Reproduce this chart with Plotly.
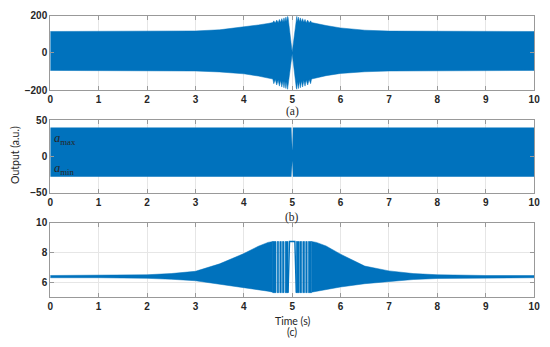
import plotly.graph_objects as go

# ---------------- data ----------------
# Panel (a): envelope of the oscillating output
a_t = [0, 1, 2, 3, 3.5, 4.0, 4.3, 4.5, 4.6, 4.62, 4.65, 4.68, 4.71, 4.735, 4.76, 4.785,
       4.81, 4.83, 4.85, 4.87, 4.888, 4.905, 4.915, 5.0,
       5.085, 5.095, 5.112, 5.13, 5.15, 5.17, 5.19, 5.215, 5.24, 5.265, 5.29, 5.32, 5.35,
       5.38, 5.4, 5.5, 5.7, 6.0, 6.5, 7.0, 8.0, 9.0, 10]
a_upper = [115, 115, 116, 118, 124, 138, 150, 158, 163, 172, 160, 176, 162, 180, 164, 184,
           166, 188, 167, 192, 168, 196, 190, 4,
           190, 196, 168, 192, 167, 188, 166, 184, 164, 180, 162, 176, 160,
           172, 163, 157, 147, 134, 122, 117, 115, 115, 115]
a_lower = [-94, -94, -95, -97, -102, -112, -124, -134, -140, -165, -142, -172, -145, -178, -148, -183,
           -150, -187, -152, -191, -154, -195, -188, -4,
           -188, -195, -154, -191, -152, -187, -150, -183, -148, -178, -145, -172, -142,
           -165, -140, -133, -122, -110, -101, -97, -95, -94, -94]

# Panel (b): saturated output between a_max and a_min
b_t = [0, 4.985, 5.0, 5.015, 10]
b_upper = [40, 40, 8, 40, 40]
b_lower = [-28, -28, -6, -28, -28]

# Panel (c): envelope of the demodulated signal
c_t = [0, 1, 2, 2.5, 3, 3.5, 4.0, 4.3, 4.5, 4.6,
       5.4, 5.5, 5.7, 6.0, 6.5, 7.0, 7.5, 8.0, 9.0, 10]
c_upper = [6.47, 6.47, 6.52, 6.6, 6.75, 7.25, 7.94, 8.43, 8.69, 8.75,
           8.75, 8.69, 8.45, 7.9, 7.1, 6.78, 6.6, 6.52, 6.47, 6.47]
c_lower = [6.32, 6.32, 6.28, 6.22, 6.12, 5.9, 5.68, 5.51, 5.42, 5.35,
           5.35, 5.42, 5.52, 5.7, 5.92, 6.08, 6.2, 6.27, 6.32, 6.32]
# saturated pulses near t = 5
c_block_start = [4.6, 4.69, 4.745, 4.8, 4.855, 5.085, 5.16, 5.22, 5.28, 5.335]
c_block_end = [4.665, 4.72, 4.775, 4.83, 4.915, 5.145, 5.195, 5.255, 5.31, 5.4]
c_block_top = 8.75
c_block_bottom = 5.32
c_pulse_t = [4.915, 4.945, 5.055, 5.085]
c_pulse_v = [5.32, 8.75, 8.75, 5.32]

x_ticks = list(range(0, 11))

BLUE = '#0072BD'


def band(t, up, lo):
    return list(t) + list(t)[::-1], list(up) + list(lo)[::-1]


fig = go.Figure()

xa, ya = band(a_t, a_upper, a_lower)
fig.add_trace(go.Scatter(x=xa, y=ya, fill='toself', fillcolor=BLUE, mode='lines',
                         line=dict(color=BLUE, width=0.5), xaxis='x', yaxis='y',
                         hoverinfo='skip'))

xb, yb = band(b_t, b_upper, b_lower)
fig.add_trace(go.Scatter(x=xb, y=yb, fill='toself', fillcolor=BLUE, mode='lines',
                         line=dict(color=BLUE, width=0), xaxis='x2', yaxis='y2',
                         hoverinfo='skip'))

# panel c: left and right envelopes
left = [i for i, t in enumerate(c_t) if t <= 4.6]
right = [i for i, t in enumerate(c_t) if t >= 5.4]
for idx in (left, right):
    xc, yc = band([c_t[i] for i in idx], [c_upper[i] for i in idx], [c_lower[i] for i in idx])
    fig.add_trace(go.Scatter(x=xc, y=yc, fill='toself', fillcolor=BLUE, mode='lines',
                             line=dict(color=BLUE, width=0.5), xaxis='x3', yaxis='y3',
                             hoverinfo='skip'))
bx, by = [], []
for s, e in zip(c_block_start, c_block_end):
    bx += [s, s, e, e, s, None]
    by += [c_block_bottom, c_block_top, c_block_top, c_block_bottom, c_block_bottom, None]
fig.add_trace(go.Scatter(x=bx, y=by, fill='toself', fillcolor=BLUE, mode='lines',
                         line=dict(color=BLUE, width=0.6), xaxis='x3', yaxis='y3',
                         hoverinfo='skip'))
fig.add_trace(go.Scatter(x=c_pulse_t, y=c_pulse_v, mode='lines',
                         line=dict(color=BLUE, width=1.4), xaxis='x3', yaxis='y3',
                         hoverinfo='skip'))

AXC = '#999999'
GRID = '#e6e6e6'
tickfont = dict(family='Liberation Sans, Arial', size=10, color='#262626', weight='bold')

common_x = dict(range=[0, 10], tickmode='array', tickvals=x_ticks, ticktext=[str(v) for v in x_ticks],
                showline=True, linecolor=AXC, linewidth=1, mirror='ticks', ticks='inside',
                ticklen=4, tickcolor=AXC, showgrid=True, gridcolor=GRID, zeroline=False,
                tickfont=tickfont, domain=[0.0873, 0.9818])
common_y = dict(showline=True, linecolor=AXC, linewidth=1, mirror='ticks', ticks='inside',
                ticklen=4, tickcolor=AXC, showgrid=True, gridcolor=GRID, zeroline=False,
                tickfont=tickfont)

fig.update_layout(
    width=550, height=347,
    margin=dict(l=0, r=0, t=0, b=0),
    paper_bgcolor='white', plot_bgcolor='white',
    showlegend=False,
    xaxis=dict(**common_x, anchor='y'),
    yaxis=dict(**common_y, anchor='x', domain=[0.7464, 0.9683], range=[-200, 200],
               tickvals=[-200, 0, 200]),
    xaxis2=dict(**common_x, anchor='y2'),
    yaxis2=dict(**common_y, anchor='x2', domain=[0.4409, 0.6571], range=[-50, 50],
                tickvals=[-50, 0, 50]),
    xaxis3=dict(**common_x, anchor='y3'),
    yaxis3=dict(**common_y, anchor='x3', domain=[0.1297, 0.3516], range=[5, 10],
                tickvals=[6, 8, 10]),
)

serif = dict(family='Liberation Serif, Times New Roman', size=11.5, color='#262626')
sans = dict(family='Lato, Noto Sans', size=10.5, color='#262626')

fig.add_annotation(x=0.5345, y=1 - 110 / 347, xref='paper', yref='paper', text='(a)',
                   showarrow=False, font=serif, xanchor='center', yanchor='middle')
fig.add_annotation(x=0.5345, y=1 - 219 / 347, xref='paper', yref='paper', text='(b)',
                   showarrow=False, font=serif, xanchor='center', yanchor='middle')
fig.add_annotation(x=0.5345, y=1 - 326 / 347, xref='paper', yref='paper', text='Time (s)',
                   showarrow=False, font=sans, xanchor='center', yanchor='middle')
fig.add_annotation(x=0.5345, y=1 - 338 / 347, xref='paper', yref='paper', text='(c)',
                   showarrow=False, font=sans, xanchor='center', yanchor='middle')
fig.add_annotation(x=12 / 550, y=1 - 155 / 347, xref='paper', yref='paper', text='Output (a.u.)',
                   showarrow=False, font=sans, textangle=-90, xanchor='center', yanchor='middle')
fig.add_annotation(x=50 / 550, y=1 - 138 / 347, xref='paper', yref='paper',
                   text='<i>a</i><sub>max</sub>', showarrow=False,
                   font=dict(family='Liberation Serif, Times New Roman', size=12.5, color='#262626'),
                   xanchor='left', yanchor='middle')
fig.add_annotation(x=50 / 550, y=1 - 169 / 347, xref='paper', yref='paper',
                   text='<i>a</i><sub>min</sub>', showarrow=False,
                   font=dict(family='Liberation Serif, Times New Roman', size=12.5, color='#262626'),
                   xanchor='left', yanchor='middle')

fig.write_html('out.html', config={'displayModeBar': False},
               post_script="document.body.style.margin='0px';document.body.style.padding='0px';")
